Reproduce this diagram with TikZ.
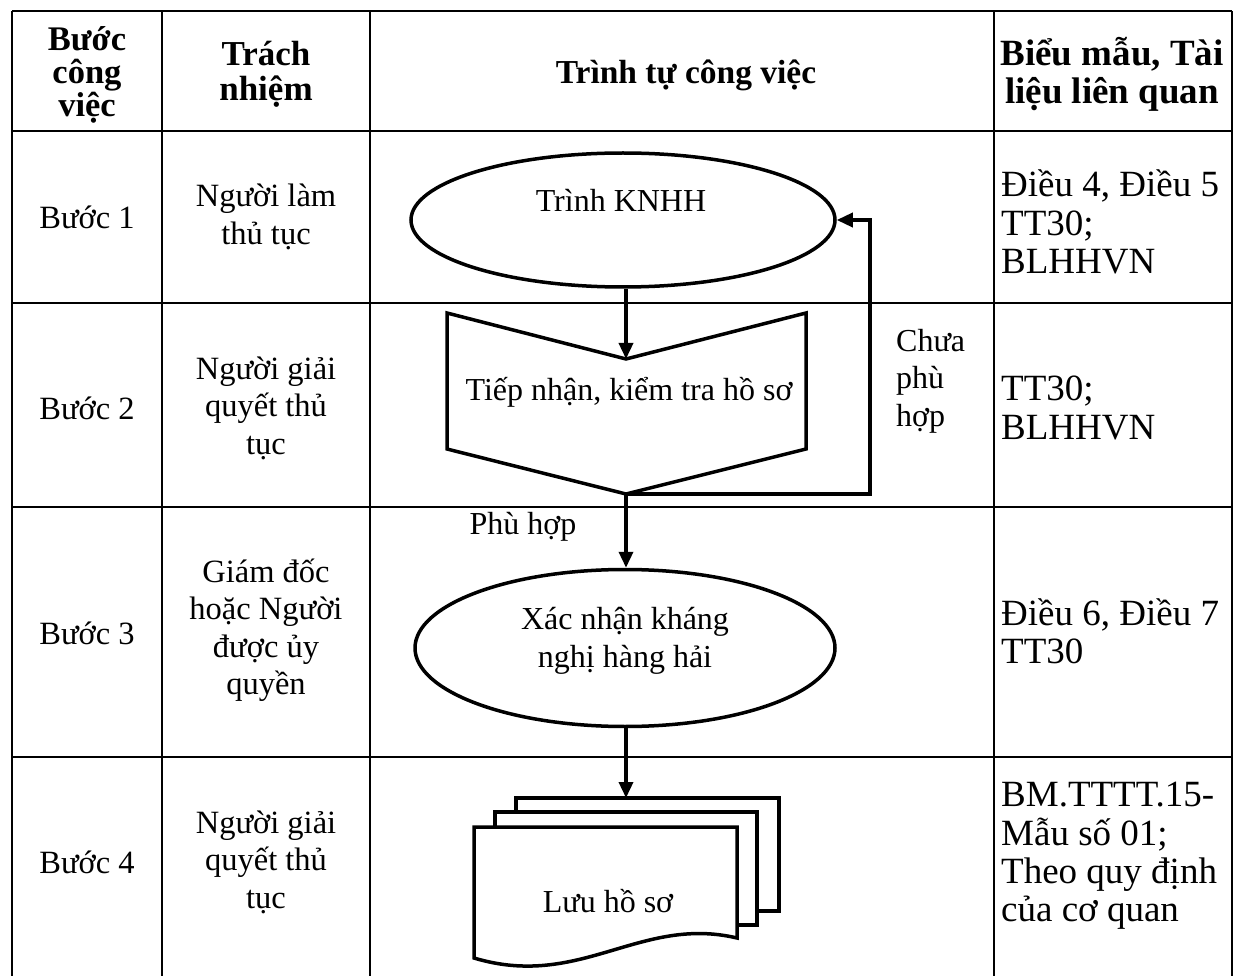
\documentclass[tikz,border=0pt]{standalone}
\usepackage{fontspec}
\setmainfont{Liberation Serif}
\usetikzlibrary{shapes.geometric,arrows.meta}
\begin{document}
\begin{tikzpicture}[x=1pt,y=-1pt,
  every node/.style={font=\fontsize{32.5}{37.5}\selectfont, inner sep=0pt},
  grid/.style={line width=2.5pt},
  flow/.style={line width=3.5pt, line join=miter},
  arr/.style={flow, -{Triangle[length=16pt,width=14pt]}},
  ftext/.style={font=\fontsize{32}{37.5}\selectfont},
  hdr/.style={font=\fontsize{34.5}{33}\selectfont\bfseries, align=center},
  cell/.style={align=center},
  ref/.style={align=left, anchor=west, font=\fontsize{37}{38.3}\selectfont},
  oval/.style={ellipse, draw, line width=3.5pt, fill=white, inner sep=0pt},
]
\useasboundingbox (0,0) rectangle (1235,976);
% table
\draw[grid] (12,11) -- (1232,11);
\foreach \y in {131,303,507,757} \draw[grid] (12,\y) -- (1232,\y);
\foreach \x in {12,162,370,994,1232} \draw[grid] (\x,11) -- (\x,990);
% header
\node[hdr] (h1) at (87,75) {Bước\\công\\việc};
\node[hdr, font=\fontsize{35}{35}\selectfont\bfseries] (h2) at (266,74) {Trách\\nhiệm};
\node[hdr, font=\fontsize{33.5}{35}\selectfont\bfseries] (h3) at (686,75) {Trình tự công việc};
\node[hdr, font=\fontsize{37}{38}\selectfont\bfseries] (h4) at (1112,74) {Biểu mẫu, Tài\\liệu liên quan};
% column 1
\node (s1) at (87,217) {Bước 1};
\node (s2) at (87,408) {Bước 2};
\node (s3) at (87,633) {Bước 3};
\node (s4) at (87,862) {Bước 4};
% column 2
\node[cell] (r1) at (266,217) {Người làm\\thủ tục};
\node[cell] (r2) at (266,408) {Người giải\\quyết thủ\\tục};
\node[cell] (r3) at (266,630) {Giám đốc\\hoặc Người\\được ủy\\quyền};
\node[cell] (r4) at (266,862) {Người giải\\quyết thủ\\tục};
% column 4
\node[ref] (d1) at (1001,222) {Điều 4, Điều 5\\TT30;\\BLHHVN};
\node[ref] (d2) at (1001,408) {TT30;\\BLHHVN};
\node[ref] (d3) at (1001,631) {Điều 6, Điều 7\\TT30};
\node[ref] (d4) at (1001,856) {BM.TTTT.15-\\Mẫu số 01;\\Theo quy định\\của cơ quan};
% flowchart
\node[oval, minimum width=424pt, minimum height=134pt] (e1) at (623,220) {};
\node[ftext] (e1t) at (621,200) {Trình KNHH};
\coordinate (n2top) at (626,359);
\coordinate (n2bot) at (626,494);
\draw[flow] (447,313) -- (n2top) -- (806,313) -- (806,449) -- (n2bot) -- (447,449) -- cycle;
\node[ftext] (n2t) at (629,392) {Tiếp nhận, kiểm tra hồ sơ};
\draw[arr] (e1.south -| n2top) -- (n2top);
\coordinate (fb1) at (870,494);
\coordinate (fb2) at (870,220);
\draw[arr] (n2bot) -- (fb1) -- (fb2) -- (e1.east);
\node[ftext, align=left, anchor=west] (no) at (896,381) {Chưa\\phù\\hợp};
\node[ftext] (yes) at (523,527) {Phù hợp};
\node[oval, minimum width=420pt, minimum height=157pt] (e2) at (625,648) {};
\node[ftext, align=center] (e2t) at (625,641) {Xác nhận kháng\\nghị hàng hải};
\draw[arr] (n2bot) -- (e2.north -| n2bot);
% document stack
\coordinate (dtop) at (626,798);
\draw[arr] (e2.south -| dtop) -- (dtop);
\draw[flow, fill=white] (516,798) rectangle (779,911);
\draw[flow, fill=white] (495,812) rectangle (757,925);
\draw[flow, fill=white] (474,827) -- (737,827) -- (737,938) .. controls (640,915) and (580,990) .. (474,958) -- cycle;
\node[ftext] (doc) at (608,901) {Lưu hồ sơ};
\end{tikzpicture}
\end{document}
